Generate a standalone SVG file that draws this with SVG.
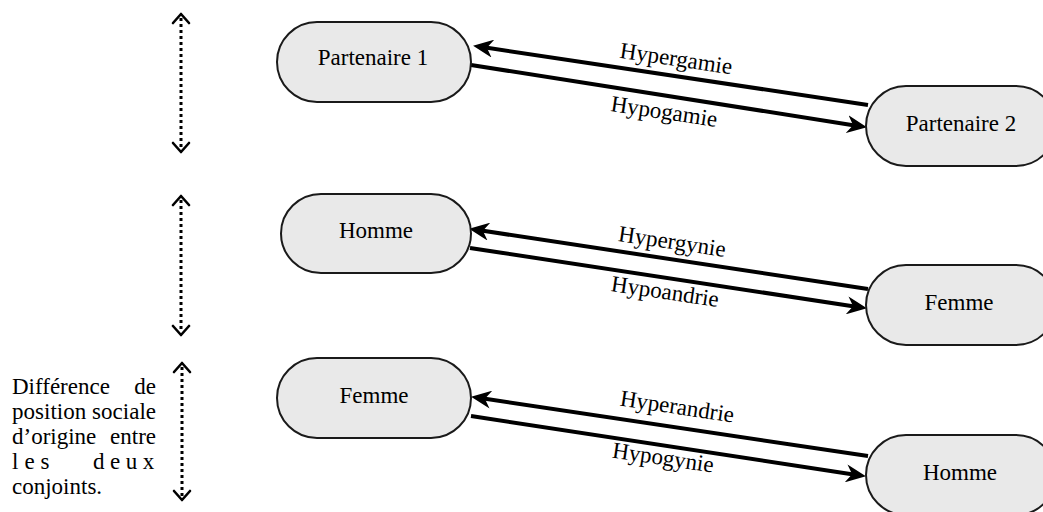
<svg xmlns="http://www.w3.org/2000/svg" width="1043" height="512" viewBox="0 0 1043 512">
<style>
.box{fill:#e9e9e9;stroke:#1a1a1a;stroke-width:2}
.t{font-family:"Liberation Serif","Times New Roman",serif;font-size:23px;fill:#000}
.c{text-anchor:middle}
.e{text-anchor:end}
.lk{stroke:#000;stroke-width:4;fill:none}
.dot{stroke:#000;stroke-width:3;stroke-dasharray:3,3;fill:none}
.chev{stroke:#000;stroke-width:2.6;fill:none;stroke-linecap:round;stroke-linejoin:round}
</style>
<defs>
<marker id="ah" markerUnits="userSpaceOnUse" markerWidth="20" markerHeight="18" refX="14" refY="9" orient="auto" viewBox="0 0 20 18">
<path d="M0,0 L20,9 L0,18 L6,9 z" fill="#000"/>
</marker>
</defs>
<rect width="1043" height="512" fill="#fff"/>
<g id="scale-indicators">
<line class="dot" x1="181" y1="18" x2="181" y2="148"/>
<path class="chev" d="M173,23 L181,14 L189,23 M173,143 L181,152 L189,143"/>
<line class="dot" x1="181" y1="200" x2="181" y2="331"/>
<path class="chev" d="M173,205 L181,196 L189,205 M173,326 L181,335 L189,326"/>
<line class="dot" x1="182" y1="367" x2="182" y2="496"/>
<path class="chev" d="M174,372 L182,363 L190,372 M174,491 L182,500 L190,491"/>
</g>
<g id="caption">
<text class="t" x="12" y="394">Différence</text>
<text class="t e" x="156" y="394">de</text>
<text class="t" x="12" y="419" textLength="144" lengthAdjust="spacing">position sociale</text>
<text class="t" x="12" y="444">d’origine</text>
<text class="t e" x="156" y="444">entre</text>
<text class="t" x="12" y="469" letter-spacing="6">les</text>
<text class="t" x="93" y="469" letter-spacing="5.5">deux</text>
<text class="t" x="12" y="494">conjoints.</text>
</g>
<g id="connectors">
<line class="lk" x1="868" y1="105" x2="479" y2="46.6" marker-end="url(#ah)"/>
<line class="lk" x1="471" y1="65" x2="861" y2="126.4" marker-end="url(#ah)"/>
<line class="lk" x1="868" y1="289" x2="475" y2="229.6" marker-end="url(#ah)"/>
<line class="lk" x1="470" y1="248" x2="861" y2="307.4" marker-end="url(#ah)"/>
<line class="lk" x1="868" y1="456" x2="477" y2="397.6" marker-end="url(#ah)"/>
<line class="lk" x1="471" y1="416" x2="860" y2="475.4" marker-end="url(#ah)"/>
<text class="t c" transform="translate(675,66) rotate(8.5)">Hypergamie</text>
<text class="t c" transform="translate(663,119) rotate(8.5)">Hypogamie</text>
<text class="t c" transform="translate(671,249) rotate(8.5)">Hypergynie</text>
<text class="t c" transform="translate(664,299) rotate(8.5)">Hypoandrie</text>
<text class="t c" transform="translate(676,414) rotate(8.5)">Hyperandrie</text>
<text class="t c" transform="translate(662,465) rotate(8.5)">Hypogynie</text>
</g>
<g id="node-partenaire1">
<rect class="box" x="277" y="22" width="194" height="80" rx="40"/>
<text class="t c" x="373" y="65">Partenaire 1</text>
</g>
<g id="node-partenaire2">
<rect class="box" x="866" y="86" width="190" height="80" rx="40"/>
<text class="t c" x="961" y="131">Partenaire 2</text>
</g>
<g id="node-homme1">
<rect class="box" x="281" y="194" width="190" height="79" rx="40"/>
<text class="t c" x="376" y="238">Homme</text>
</g>
<g id="node-femme1">
<rect class="box" x="866" y="265" width="190" height="80" rx="40"/>
<text class="t c" x="959" y="310">Femme</text>
</g>
<g id="node-femme2">
<rect class="box" x="277" y="358" width="194" height="80" rx="40"/>
<text class="t c" x="374" y="403">Femme</text>
</g>
<g id="node-homme2">
<rect class="box" x="866" y="435" width="190" height="80" rx="40"/>
<text class="t c" x="960" y="480">Homme</text>
</g>
</svg>
